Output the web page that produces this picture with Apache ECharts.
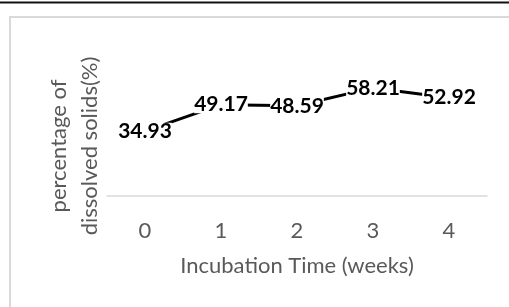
<!DOCTYPE html>
<html lang="en">
<head>
  <meta charset="UTF-8">
  <title>Dissolved solids</title>
  <script type="text/javascript" src="https://fastly.jsdelivr.net/npm/echarts@6/dist/echarts.min.js"></script>
  <style>
    html, body, #container {
      width: 100%;
      height: 100%;
      margin: 0;
      padding: 0;
      overflow: hidden;
      background: #fff;
    }
  </style>
</head>
<body>
  <div id="container"></div>
  <script type="text/javascript">
    var weeks = ['0', '1', '2', '3', '4'];
    var dissolved = [34.93, 49.17, 48.59, 58.21, 52.92];

    var font = 'Lato, "Open Sans", sans-serif';
    var grey = '#595959';

    var myChart = echarts.init(document.getElementById('container'), null, { renderer: 'canvas' });
    myChart.setOption({
      backgroundColor: '#fff',
      animation: false,
      grid: { left: 107, right: 22, top: 66, bottom: 111 },
      xAxis: {
        type: 'category',
        data: weeks,
        boundaryGap: true,
        axisLine: { lineStyle: { color: '#d9d9d9', width: 1.5 } },
        axisTick: { show: false },
        axisLabel: { color: grey, fontSize: 22, fontFamily: font, margin: 24 },
        name: 'Incubation Time (weeks)',
        nameLocation: 'middle',
        nameGap: 59,
        nameTextStyle: { color: grey, fontSize: 22, fontFamily: font }
      },
      yAxis: {
        type: 'value',
        min: 0,
        max: 70,
        show: false
      },
      graphic: [
        { type: 'rect', shape: { x: 0, y: 1.5, width: 509, height: 2 }, style: { fill: '#111' } },
        { type: 'rect', shape: { x: 10, y: 17, width: 600, height: 400 }, style: { fill: 'none', stroke: '#d9d9d9', lineWidth: 2 } },
        {
          type: 'text', x: 74, y: 146, rotation: Math.PI / 2,
          style: {
            text: 'percentage of\ndissolved solids(%)',
            fill: grey, font: '22px ' + font, lineHeight: 31,
            textAlign: 'center', textVerticalAlign: 'middle'
          }
        }
      ],
      series: [{
        type: 'line',
        data: dissolved,
        symbol: 'circle',
        symbolSize: 0,
        showSymbol: true,
        lineStyle: { color: '#000', width: 3 },
        label: {
          show: true,
          position: 'inside',
          color: '#000',
          fontWeight: 'bold',
          fontSize: 21,
          fontFamily: font,
          backgroundColor: '#fff',
          padding: [-2, 0, -2, 0],
          formatter: function (p) { return p.value.toFixed(2); }
        }
      }]
    });
  </script>
</body>
</html>
